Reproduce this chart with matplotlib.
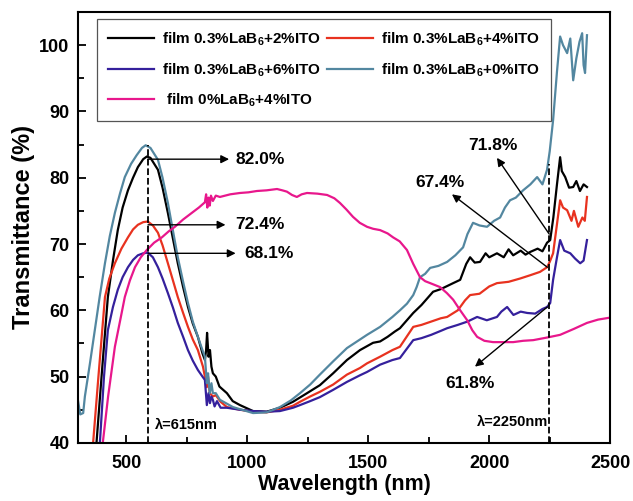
import matplotlib
matplotlib.use("Agg")
import matplotlib.pyplot as plt
from matplotlib.ticker import MultipleLocator

plt.rcParams['font.family'] = ['Liberation Sans', 'DejaVu Sans']
plt.rcParams['font.weight'] = 'bold'
plt.rcParams['mathtext.fontset'] = 'custom'
plt.rcParams['mathtext.rm'] = 'Liberation Sans:bold'
plt.rcParams['mathtext.bf'] = 'Liberation Sans:bold'

# film 0.3%LaB6 + 2%ITO
black_wl = [360, 377, 400, 424, 445, 465, 485, 507, 528, 548, 570, 585, 600, 631, 650, 672, 693,
            713, 735, 755, 775, 796, 815, 825, 830, 834, 840, 846, 852, 858, 870, 885, 916, 940,
            970, 1000, 1024, 1080, 1135, 1189, 1247, 1300, 1355, 1412, 1466, 1520, 1549, 1580,
            1610, 1631, 1686, 1720, 1768, 1800, 1851, 1880, 1905, 1921, 1940, 1962, 1985, 2000,
            2032, 2060, 2080, 2099, 2130, 2150, 2169, 2200, 2220, 2239, 2252, 2265, 2280, 2293,
            2300, 2314, 2330, 2347, 2360, 2375, 2390, 2404]
black_t = [36, 40, 51, 62, 67.5, 72.1, 75.5, 78.1, 80, 81.6, 82.8, 83.2, 83, 81.2, 78.5, 74.7, 70.8,
           67.1, 63.5, 60.5, 58, 56, 53.5, 52.5, 54, 56.6, 53, 54, 51.5, 50.5, 50, 48.5, 47.5, 46.3,
           45.7, 45.2, 44.8, 44.7, 45.3, 46.2, 47.5, 48.7, 50.5, 52.5, 54, 55.1, 55.3, 56,
           56.8, 57.3, 59.6, 60.8, 62.8, 63.2, 64.1, 64.6, 67, 68, 67.2, 67.3, 68.6, 68,
           68.6, 68, 69.2, 68.3, 69, 68.4, 68.8, 69.3, 68.9, 70.2, 70.6, 74, 79, 83.1,
           81, 80.1, 78.5, 78.6, 79.5, 78, 79, 78.6]

# film 0.3%LaB6 + 4%ITO
red_wl = [350, 363, 385, 412, 430, 453, 480, 507, 528, 548, 570, 589, 610, 631, 650, 672, 693, 713,
          735, 755, 775, 796, 817, 825, 833, 838, 845, 858, 870, 890, 916, 970, 1024, 1080, 1135,
          1189, 1218, 1260, 1300, 1355, 1412, 1466, 1495, 1549, 1600, 1631, 1686, 1720, 1760, 1800,
          1826, 1870, 1900, 1921, 1960, 2000, 2032, 2080, 2128, 2170, 2210, 2239, 2250, 2264, 2280,
          2293, 2305, 2322, 2340, 2350, 2368, 2385, 2395, 2404]
red_t = [37, 40, 50, 62, 64.8, 67.1, 69.3, 71, 72.2, 72.9, 73.3, 73.4, 72.8, 71.7, 69.8, 67.1, 64.5, 62,
         59.6, 57.5, 55.6, 54, 51.5, 50, 48.4, 50, 47.5, 47, 47.2, 46.2, 45.4, 45, 44.7, 44.6, 45,
         45.6, 46.2, 47, 47.7, 48.8, 50.3, 51.3, 52, 53, 54, 54.5, 57.5, 57.8, 58.3, 58.8,
         59, 60, 61.5, 62.3, 62.5, 63.6, 64.1, 64.3, 64.8, 65.3, 65.8, 66.5, 67.3, 68.6, 73,
         76.6, 75.5, 75.1, 73.5, 75, 72.6, 74, 73.5, 77.1]

# film 0.3%LaB6 + 6%ITO
blue_wl = [375, 391, 408, 424, 445, 465, 485, 507, 528, 548, 570, 589, 610, 631, 650, 672, 693, 713,
           735, 755, 775, 796, 815, 825, 833, 840, 846, 852, 858, 865, 875, 890, 916, 970, 1024,
           1080, 1135, 1189, 1218, 1260, 1300, 1355, 1412, 1466, 1495, 1549, 1600, 1631, 1686, 1720,
           1760, 1800, 1826, 1870, 1910, 1950, 1990, 2032, 2050, 2074, 2100, 2130, 2157, 2190, 2220,
           2239, 2252, 2264, 2280, 2293, 2310, 2335, 2355, 2376, 2390, 2404]
blue_t = [36, 40, 50, 57, 60.5, 63.1, 65, 66.5, 67.6, 68.3, 68.6, 68.7, 68, 66.5, 64.8, 62.6, 60.4, 58.1,
          56, 54, 52.4, 51, 50, 49.5, 45.7, 47.5, 46, 47, 46.5, 45.5, 46.3, 45.3, 45.3, 45, 44.8,
          44.7, 44.8, 45.3, 45.7, 46.3, 46.9, 48, 49.2, 50.2, 50.7, 51.8, 52.5, 52.8, 55.5, 55.8,
          56.3, 56.9, 57.3, 57.8, 58.3, 59, 58.5, 59, 59.8, 60.5, 59.3, 59.8, 59.6, 59.5, 60.2,
          60.5, 61.1, 64.6, 68, 70.6, 69, 68.6, 67.8, 67.1, 67.5, 70.6]

# film 0.3%LaB6 + 0%ITO
teal_wl = [300, 310, 322, 329, 350, 370, 390, 412, 432, 453, 474, 494, 520, 543, 565, 580, 600, 631,
           650, 672, 693, 713, 735, 755, 775, 796, 815, 825, 833, 838, 845, 852, 858, 870, 887, 941,
           1024, 1080, 1135, 1180, 1218, 1260, 1300, 1355, 1412, 1466, 1495, 1549, 1600, 1631, 1660,
           1686, 1700, 1714, 1735, 1756, 1790, 1826, 1860, 1892, 1910, 1933, 1960, 1991, 2020, 2045,
           2065, 2086, 2110, 2140, 2170, 2198, 2220, 2239, 2250, 2264, 2280, 2293, 2305, 2322, 2335,
           2347, 2360, 2373, 2384, 2390, 2396, 2404]
teal_t = [46.5, 44.3, 44.5, 47, 52, 57, 62, 67.1, 71.2, 74.7, 77.6, 80.1, 82.1, 83.4, 84.5, 84.9, 84.5, 82.7,
          80, 76.2, 72, 68, 64.3, 61.1, 58.3, 56, 54, 53, 49, 50.5, 47.5, 49, 47.5, 47.5, 46.5, 45.4,
          44.5, 44.6, 45.4, 46.4, 47.5, 48.8, 50.3, 52.3, 54.3, 55.6, 56.3, 57.5, 59, 60, 61,
          62.3, 63.5, 65, 65.5, 66.4, 66.7, 67.3, 68.3, 69.5, 71.5, 73.2, 72.8, 72.6, 73.5, 74,
          75.5, 76.6, 77, 78.1, 79, 80.1, 79, 81.2, 84, 88.7, 96, 101.3, 100, 98.8, 101,
          94.7, 98, 100.5, 101.8, 97, 95.8, 101.5]

# film 0%LaB6 + 4%ITO
pink_wl = [395, 403, 425, 453, 475, 494, 515, 536, 560, 585, 615, 647, 675, 701, 735, 771, 800, 825,
           830, 835, 840, 845, 850, 858, 870, 887, 930, 970, 1005, 1040, 1080, 1123, 1145, 1164,
           1185, 1205, 1225, 1247, 1290, 1330, 1360, 1383, 1410, 1437, 1465, 1495, 1520, 1549, 1580,
           1603, 1630, 1660, 1686, 1714, 1735, 1756, 1797, 1825, 1851, 1880, 1909, 1930, 1950, 1980,
           2016, 2060, 2099, 2140, 2182, 2240, 2293, 2350, 2404, 2450, 2500]
pink_t = [36, 40, 47, 54.5, 58.5, 62, 64.5, 66.5, 68, 69.1, 70.2, 71, 71.9, 72.6, 73.7, 74.7, 75.5, 76.3,
          77.5, 75.5, 77, 75.8, 77.3, 76.5, 77.3, 77.1, 77.5, 77.7, 77.8, 78, 78.1, 78.3, 78.1, 77.9,
          77.4, 77.1, 77.5, 77.7, 77.6, 77.4, 76.9, 76.2, 75.2, 74.1, 73.2, 72.6, 72.3, 72.1, 71.6,
          71, 70.4, 69.1, 67, 65, 64.4, 64.1, 63.5, 62.6, 61.6, 60, 58.5, 57, 56, 55.4,
          55.2, 55.2, 55.2, 55.4, 55.5, 55.9, 56.3, 57.2, 58.1, 58.6, 58.9]

labels = [r"film 0.3%LaB$_\mathbf{6}$+2%ITO", r"film 0.3%LaB$_\mathbf{6}$+4%ITO",
          r"film 0.3%LaB$_\mathbf{6}$+6%ITO", r"film 0.3%LaB$_\mathbf{6}$+0%ITO",
          r" film 0%LaB$_\mathbf{6}$+4%ITO"]
colors = ['#000000', '#e8321f', '#35209c', '#5387a0', '#e8178c']

fig = plt.figure(figsize=(6.33, 5.01), dpi=100)
ax = fig.add_axes([0.123, 0.116, 0.841, 0.860])

series = [(black_wl, black_t), (red_wl, red_t), (blue_wl, blue_t), (teal_wl, teal_t), (pink_wl, pink_t)]
lines = []
for (wl, t), c, lab in zip(series, colors, labels):
    ln, = ax.plot(wl, t, color=c, lw=1.6, label=lab)
    lines.append(ln)

ax.set_xlim(300, 2500)
ax.set_ylim(40, 105)
ax.xaxis.set_major_locator(MultipleLocator(500))
ax.xaxis.set_minor_locator(MultipleLocator(250))
ax.yaxis.set_major_locator(MultipleLocator(10))
ax.yaxis.set_minor_locator(MultipleLocator(5))
ax.set_yticks([40, 50, 60, 70, 80, 90, 100])
ax.tick_params(which='both', direction='in', width=1.3, labelsize=13)
ax.tick_params(which='major', length=6)
ax.tick_params(which='minor', length=4)
ax.tick_params(axis='x', pad=9)
ax.tick_params(axis='y', pad=6)
for s in ax.spines.values():
    s.set_linewidth(1.5)
ax.set_xlabel("Wavelength (nm)", fontsize=15.5, fontweight='bold', labelpad=1)
ax.set_ylabel("Transmittance (%)", fontsize=17, fontweight='bold', labelpad=3)

# dashed markers
ax.plot([590, 590], [40, 85], color='k', ls='--', lw=1.3)
ax.plot([2245, 2245], [40, 82], color='k', ls='--', lw=1.3)
ax.text(620, 42.7, "λ=615nm", fontsize=10.5, va='center', ha='left')
ax.text(2242, 43.2, "λ=2250nm", fontsize=10.5, va='center', ha='right')

arr = dict(arrowstyle='-|>', color='k', lw=1.0, mutation_scale=12, shrinkA=0, shrinkB=0)
ax.annotate('', xy=(925, 82.8), xytext=(590, 82.8), arrowprops=arr)
ax.text(950, 82.8, "82.0%", fontsize=12.5, va='center', ha='left')
ax.annotate('', xy=(910, 72.9), xytext=(590, 72.9), arrowprops=arr)
ax.text(950, 72.9, "72.4%", fontsize=12.5, va='center', ha='left')
ax.annotate('', xy=(952, 68.6), xytext=(590, 68.6), arrowprops=arr)
ax.text(990, 68.6, "68.1%", fontsize=12.5, va='center', ha='left')

ax.annotate('', xy=(2032, 83.0), xytext=(2248, 71.5), arrowprops=arr)
ax.text(2016, 84.8, "71.8%", fontsize=12.5, va='center', ha='center')
ax.annotate('', xy=(1846, 77.5), xytext=(2240, 66.5), arrowprops=arr)
ax.text(1797, 79.3, "67.4%", fontsize=12.5, va='center', ha='center')
ax.annotate('', xy=(1941, 51.5), xytext=(2240, 60.5), arrowprops=arr)
ax.text(1921, 48.9, "61.8%", fontsize=12.5, va='center', ha='center')

order = [0, 2, 4, 1, 3]
leg = ax.legend([lines[i] for i in order], [labels[i] for i in order], ncol=2,
                loc='upper left', bbox_to_anchor=(0.036, 0.984), borderaxespad=0,
                fancybox=False, edgecolor='#555555', framealpha=1,
                handlelength=3.0, handletextpad=0.5, columnspacing=0.4,
                labelspacing=0.85, borderpad=0.75,
                prop={'weight': 'bold', 'size': 11})
leg.get_frame().set_linewidth(0.9)

fig.savefig("out.png", dpi=100)
